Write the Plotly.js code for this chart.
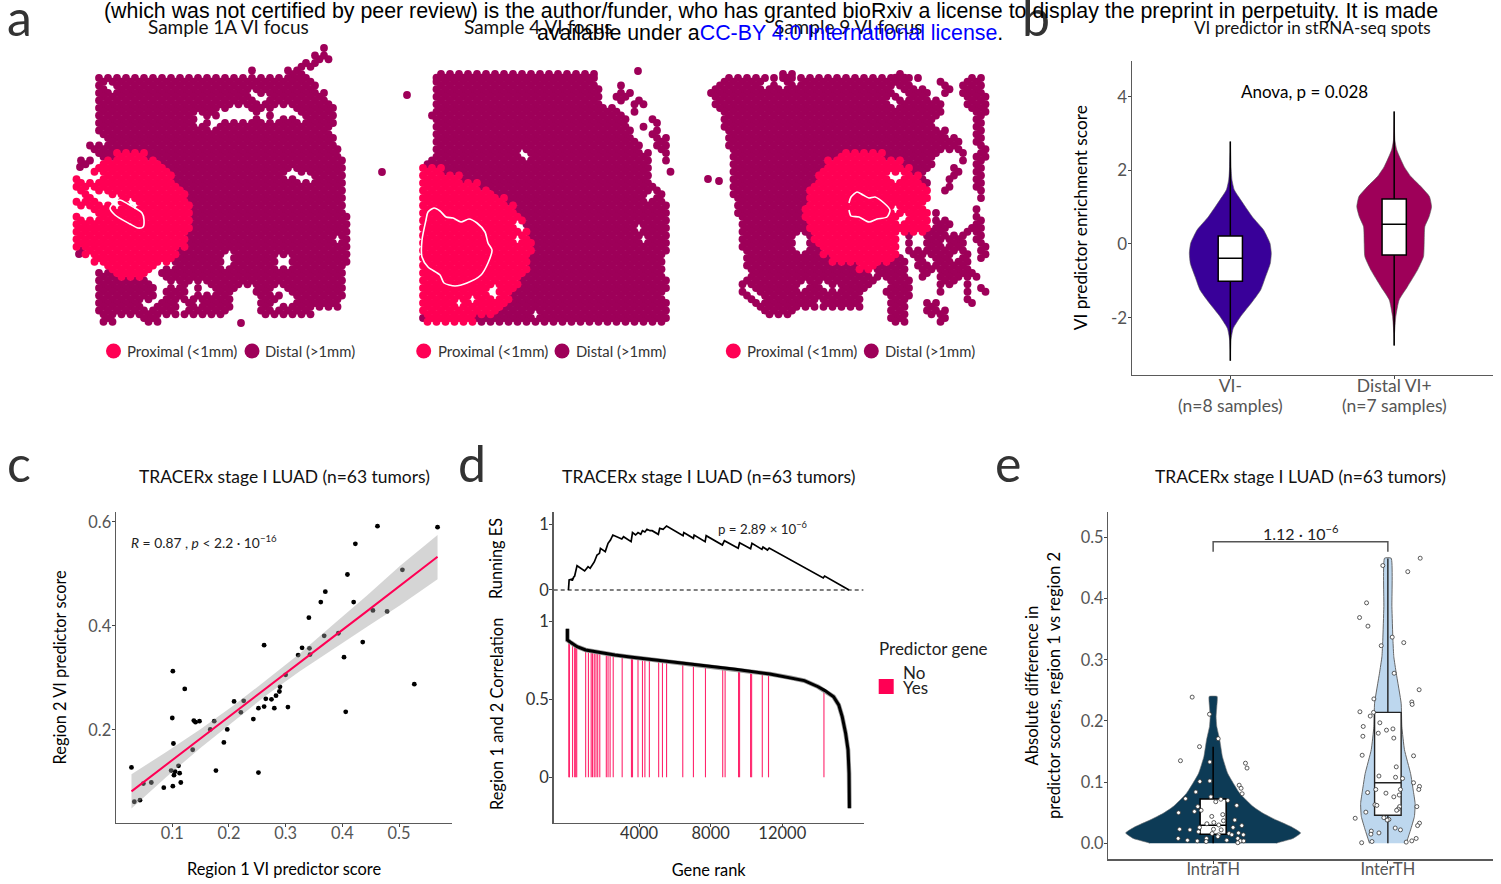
<!DOCTYPE html>
<html><head><meta charset="utf-8">
<script src="https://cdn.plot.ly/plotly-3.0.1.min.js"></script>
<style>html,body{margin:0;padding:0;background:#fff}#g{width:1501px;height:884px}</style></head>
<body><div id="g"></div>
<script>
const W=1501,H=884;
const PROX='#FF0054',DIST='#9E0059',VIOLET='#390099',NAVY='#0D3B56',SKY='#BDD7EE';
const FONT='Lato, sans-serif';

/* ---- panel a: spot extents per row: [y, left,right, left,right, ...] ---- */
const s1_tissue=[[48,322,330],[55.5,312,332],[63,298,322],[70.5,250,258,283,305],[78,96,315],[85.5,96,322],[93,96,328],[100.5,96,333],[108,96,340],[115.5,96,340],[123,96,340],[130.5,92,340],[138,96,340],[145.5,86,341],[153,93,344],[160.5,78,345],[168,77,345],[175.5,73,345],[183,73,348],[190.5,73,349],[198,73,348],[205.5,73,348],[213,73,353],[220.5,73,353],[228,73,353],[235.5,73,352],[243,73,352],[250.5,74,353],[258,90,353],[265.5,100,347],[273,95,348],[280.5,95,348],[288,95,237,252,348],[295.5,95,235,257,348],[303,95,233,257,343],[310.5,95,230,257,315],[318,97,118,140,162]];
const s1_prox=[[153,113,147],[160.5,90,160],[168,78,170],[175.5,73,177],[183,73,182],[190.5,73,187],[198,73,190],[205.5,73,192],[213,73,195],[220.5,73,195],[228,73,193],[235.5,73,189],[243,73,187],[250.5,82,182],[258,90,177],[265.5,100,167],[273,112,155]];
const s1_holes=[[112,87,2],[103,139,2],[333,128,2],[336,239,2],[200,120,3.5],[213,121,3.5],[226,115,4.5],[238,112,5],[248,117,3.5],[263,115,3.5],[276,113,4],[287,112,4],[298,118,2.5],[255,95,2.5],[265,99,2.5],[290,174,3],[300,178,3],[308,177,2],[226,265,3],[228,255,2],[284,262,4],[158,267,2],[153,277,2.5],[163,283,3.5],[175,285,2.5],[160,295,2.5],[155,303,2],[148,305,2],[169,266,1.5],[190,287,2.5],[192,293,1.5],[203,288,2.5],[209,289,1.5],[182,308,3],[196,303,1.5],[275,290,2],[287,293,2],[290,300,2],[280,302,2],[273,307,2],[97,163,2],[88,172,2],[80,172,2],[88,178,1.5],[98,178,1.5],[80,195,2],[90,192,2],[98,197,3],[105,200,3.5],[115,202,2],[132,203,1.5],[80,210,1.5],[87,212,2.5],[93,216,1.5],[103,267,2.5]];
const s1_iso_x=[241,382,79,80], s1_iso_y=[323,172,254,167];
const s1_line_x=[110,115,120,128,142,144,143,138,130,115,110], s1_line_y=[208,202,200,204,213,220,227,228,224,215,208];

const s4_tissue=[[74,432,598],[78,431,600],[85.5,431,602,615,623],[93,431,602,613,637],[100.5,431,604,615,647],[108,430,623,629,641],[115.5,427,629,633,637,647,657],[123,430,631,641,649,651,663],[130.5,431,637,647,663],[138,431,641,653,671],[145.5,431,643,653,673],[153,431,653,661,673],[160.5,424,653,663,671],[168,420,653,667,673],[175.5,420,655],[183,420,657],[190.5,420,665],[198,420,665],[205.5,420,669],[213,420,671],[220.5,420,673],[228,420,673],[235.5,420,673],[243,420,673],[250.5,420,673],[258,417,665],[265.5,417,667],[273,420,667],[280.5,420,669],[288,417,673],[295.5,417,668],[303,417,669],[310.5,417,669],[318,417,669]];
const s4_prox=[[168,420,447],[175.5,420,463],[183,420,483],[190.5,420,497],[198,420,509],[205.5,420,517],[213,420,523],[220.5,420,527],[228,420,531],[235.5,420,533],[243,420,534],[250.5,417,534],[258,417,531],[265.5,420,529],[273,420,526],[280.5,420,523],[288,417,519],[295.5,417,513],[303,417,509],[310.5,417,499],[318,424,477]];
const s4_holes=[[523,156,2],[639,230,1.5],[643,237,1.5],[520,227,1.5],[517,239,2.5],[649,197,3],[459,302,1.5],[470,299,1.5],[494,291,2.5],[536,313,2],[627,102,2],[637,117,3],[643,132,2.5],[649,143,2]];
const s4_iso_x=[638,407], s4_iso_y=[71,95];
const s4_line_x=[426,428,434,440,446,453,461,469,477,485,488,492,488,481,467,455,444,440,428,422,422,426], s4_line_y=[220,212,208,211,217,218,222,219,223,232,243,250,263,275,283,286,283,275,267,257,240,220];

const s9_tissue=[[74,780,795,890,910],[78,720,922,938,946,961,985],[85.5,710,926,938,954,957,985],[93,708,930,938,952,959,989],[100.5,712,947,961,989],[108,714,946,965,989],[115.5,718,940,971,985],[123,720,938,973,985],[130.5,722,952,973,985],[138,724,965,973,987],[145.5,726,965,975,989],[153,728,943,961,969,973,989],[160.5,728,938,956,969,973,987],[168,728,932,947,962,973,985],[175.5,728,926,946,958,973,985],[183,730,930,944,952,973,985],[190.5,730,930,940,948,975,985],[198,732,932,977,983],[205.5,732,928,973,979],[213,733,930,932,936,973,979],[220.5,736,930,932,954,971,985],[228,736,948,963,985],[235.5,738,900,908,914,921,966,972,986],[243,738,900,908,914,920,970,976,991],[250.5,740,900,906,974,978,991],[258,742,908,914,972,978,986],[265.5,744,908,912,972],[273,746,910,918,982],[280.5,738,878,884,912,934,957,963,969],[288,738,744,752,870,880,912,934,944,966,972,977,989],[295.5,742,756,758,864,884,912,961,971],[303,750,864,884,910,920,942,972,976],[310.5,760,799,884,910,922,948],[318,884,908,936,950]];
const s9_prox=[[153,839,886],[160.5,825,906],[168,819,914],[175.5,813,922],[183,809,928],[190.5,807,932],[198,804,930],[205.5,803,928],[213,803,932],[220.5,805,930],[228,807,930],[235.5,809,900],[243,813,900,908,914],[250.5,819,900],[258,829,894],[265.5,855,878]];
const s9_holes=[[768,85,1.5],[780,83,2],[795,82,2],[896,88,2],[904,95,2],[894,103,1.5],[916,85,2],[801,243,6],[898,177,3],[890,175,1.5],[896,209,1.5],[904,218,3],[803,287,1.5],[819,300,1.5],[827,286,1.5],[837,290,2],[874,273,1.5],[945,243,2],[930,260,2],[955,255,2],[935,275,2],[950,290,2]];
const s9_iso_x=[708,719], s9_iso_y=[179,181];
const s9_line_x=[849,851,857,863,869,875,884,890,887,877,869,859,851,849], s9_line_y=[203,197,192,195,198,197,203,210,217,219,222,217,216,210];

const a_bullet_x=[113.5,252,423.7,562,733.3,871.3];
const a_bullet_y=[351,351,351,351,351,351];
const a_bullet_c=[PROX,DIST,PROX,DIST,PROX,DIST];

/* ---- panel b ---- */
const b_vi_y=[2.78,2.10,1.74,1.47,1.20,0.74,0.38,0.02,-0.25,-0.53,-0.89,-1.25,-1.57,-1.97,-2.29,-2.61,-3.17];
const b_vi_w=[0,0.004,0.010,0.024,0.063,0.134,0.203,0.242,0.250,0.244,0.215,0.185,0.134,0.063,0.018,0.004,0];
const b_di_y=[3.60,2.83,2.55,2.10,1.83,1.56,1.29,1.01,0.74,0.47,0.02,-0.34,-0.71,-1.16,-1.52,-1.97,-2.43,-2.76];
const b_di_w=[0,0.004,0.016,0.061,0.102,0.163,0.215,0.228,0.213,0.187,0.183,0.179,0.142,0.081,0.030,0.010,0.002,0];
const b_labels=['VI-','Distal VI+'];

/* ---- panel c ---- */
const c_x=[.028,.033,.043,.049,.063,.085,.098,.101,.100,.101,.102,.105,.103,.111,.113,.115,.122,.136,.138,.141,.148,.167,.174,.177,.191,.197,.209,.221,.226,.243,.252,.252,.262,.262,.265,.275,.280,.283,.289,.290,.300,.304,.322,.329,.342,.343,.341,.362,.368,.370,.393,.403,.406,.409,.420,.423,.436,.454,.462,.479,.506,.527,.568];
const c_y=[.128,.062,.065,.097,.099,.089,.122,.092,.223,.313,.174,.120,.113,.131,.117,.099,.279,.162,.218,.215,.217,.201,.217,.122,.176,.201,.255,.234,.256,.221,.242,.118,.245,.363,.260,.259,.242,.266,.274,.283,.306,.244,.344,.358,.357,.345,.416,.446,.381,.466,.386,.340,.235,.499,.446,.558,.369,.430,.592,.428,.508,.288,.590];
const c_fit_x=[.028,.090,.149,.208,.266,.325,.384,.443,.502,.568];
const c_fit_y=[.082,.134,.183,.232,.281,.330,.379,.428,.478,.533];
const c_hi=[.115,.158,.201,.247,.296,.347,.403,.458,.516,.575];
const c_lo=[.049,.110,.165,.217,.267,.313,.356,.398,.440,.490];

/* ---- panel d ---- */
const d_es_rank=[58,96,231,269,346,404,538,962,1154,1269,1500,1654,1788,1846,2115,2269,2404,2538,3038,3135,3558,3635,3808,3942,4096,4192,4327,4442,4615,4731,5077,5154,5346,5538,6461,6500,7038,7077,7692,7750,8654,8769,9538,9615,10230,10307,10865,10923,11173,11269,14288,14365,15730];
const d_es=[0,.153,.163,.143,.194,.214,.372,.291,.357,.332,.429,.536,.561,.638,.587,.714,.765,.842,.781,.816,.74,.878,.842,.878,.852,.908,.888,.929,.908,.908,.852,.944,.929,.98,.832,.878,.791,.842,.74,.832,.689,.755,.638,.724,.633,.714,.622,.658,.612,.643,.184,.214,0];
const d_hit_rank=[77,115,288,404,462,519,1019,1173,1327,1404,1500,1596,1692,1808,2173,2269,2385,2558,3058,3577,3635,3942,4192,4327,4577,5096,5308,5538,6442,7038,7711,8673,8808,9558,9615,10230,10288,10884,11231,14327];
const d_hit_top=[.875,.865,.85,.845,.842,.84,.818,.815,.81,.808,.806,.805,.803,.80,.795,.793,.79,.788,.78,.772,.771,.765,.76,.757,.755,.75,.748,.745,.734,.727,.719,.704,.70,.691,.69,.68,.68,.67,.665,.56];
const d_cor_rank=[0,0,154,538,1019,1692,2654,3615,5538,7461,9384,11307,12461,13230,14000,14384,14865,15153,15346,15538,15673,15730,15750];
const d_cor=[.955,.882,.869,.839,.818,.803,.786,.771,.745,.722,.694,.664,.64,.621,.582,.557,.518,.465,.39,.283,.176,.026,-.199];
const d_rule_x=[-766,16542], d_rule_y=[0,0];

/* ---- panel e ---- */
const e_in_x=[.880,.979,1.029,.922,.813,.981,1.185,1.194,.924,.981,1.149,1.160,.901,1.166,.842,.987,1.044,1.084,1.015,.912,.931,1.135,.893,.802,1.055,.992,1.124,1.059,1.004,.964,1.032,1.164,1.114,.922,1.002,1.046,.808,.867,.916,1.145,.994,1.032,1.091,1.107,1.173,1.027,.962,.800,.853,.909,.960,1.078,1.141,1.156,1.175,1.141];
const e_in_y=[.239,.211,.171,.158,.135,.133,.131,.123,.101,.102,.095,.090,.084,.081,.073,.076,.072,.070,.068,.060,.054,.062,.052,.050,.047,.044,.038,.037,.034,.032,.030,.029,.026,.026,.023,.022,.023,.022,.019,.017,.016,.014,.016,.014,.014,.011,.008,.008,.005,.004,.003,.005,.008,.004,.004,.001];
const e_out_x=[1.971,2.114,2.185,1.878,1.838,1.886,2.025,2.091,1.962,2.036,2.179,1.920,2.137,2.139,1.840,1.918,1.899,1.954,1.859,2.029,1.992,1.945,1.857,2.034,1.853,2.147,2.048,1.949,2.044,2.084,2.147,2.181,2.177,1.931,2.072,1.884,1.989,2.065,2.034,1.926,1.937,2.166,2.067,2.059,2.050,1.874,1.813,1.977,2.006,1.996,2.181,2.170,2.042,2.072,1.905,1.949,1.903,2.162,2.137,1.909,2.105,1.850];
const e_out_y=[.454,.444,.466,.393,.369,.355,.337,.328,.323,.278,.251,.236,.231,.227,.215,.214,.208,.197,.191,.187,.185,.180,.175,.172,.144,.143,.125,.110,.108,.106,.099,.093,.088,.088,.088,.083,.082,.079,.076,.063,.062,.060,.060,.056,.054,.051,.041,.042,.039,.038,.033,.029,.025,.022,.020,.017,.015,.008,.004,.003,.002,.001];
const e_vin_y=[0,.001,.008,.017,.027,.038,.049,.060,.082,.114,.142,.169,.191,.207,.223,.240];
const e_vin_w=[.362,.371,.457,.501,.448,.362,.286,.229,.152,.084,.053,.038,.021,.017,.021,.023];
const e_vout_y=[0,.022,.044,.065,.087,.114,.153,.191,.229,.278,.305,.332,.387,.466];
const e_vout_w=[.105,.130,.152,.156,.145,.130,.095,.080,.076,.048,.034,.029,.023,.019];
const e_br_x=[1,1,2,2], e_br_y=[.4766,.493,.493,.4766];
const e_labels=['IntraTH','InterTH'];

/* ---- helpers ---- */
function hit(spans,y,x,inset){
  for(const r of spans){ if(r[0]!==y) continue;
    for(let i=1;i<r.length;i+=2){ if(x>=r[i]+inset && x<=r[i+1]-inset) return true; } }
  return false;
}
function spots(tissue,prox,holes){
  const D={x:[],y:[]},P={x:[],y:[]};
  for(const r of tissue){
    const y0=r[0];
    for(let j=0;j<2;j++){
      const yy=y0+3.75*j, off=j*4.5;
      for(let i=1;i<r.length;i+=2){
        let L=r[i]+3,R=r[i+1]-3;
        if(R-L<4.6){const m=(r[i]+r[i+1])/2;L=m-2.3;R=m+2.3;}
        for(let k=Math.ceil((L-off)/9);9*k+off<=R;k++){
          const xx=9*k+off;
          if(holes.some(h=>Math.hypot(xx-h[0],yy-h[1])<h[2]+2.5)) continue;
          const into=hit(prox,y0,xx,2.5)?P:D;
          into.x.push(xx); into.y.push(yy);
        }
      }
    }
  }
  return {D,P};
}
const hd=(L,R)=>[L/W,R/W], vd=(T,B)=>[1-B/H,1-T/H];
const marker=(c,s)=>({color:c,size:s,line:{width:0}});
function violin(c,ys,ws){
  return {x:ys.map((y,i)=>c-ws[i]).concat(ys.map((y,i)=>c+ws[i]).reverse()),
          y:ys.concat(ys.slice().reverse())};
}
const ln=(size,col)=>({showline:true,linecolor:'#5A5A5A',linewidth:1.5,zeroline:false,showgrid:false,ticks:'outside',ticklen:3,tickwidth:1,tickcolor:'#444',
  tickfont:{family:FONT,size:size,color:col||'#555'}});
const ttl=(t,st,s)=>({text:t,standoff:st,font:{family:FONT,size:s,color:'#000'}});

const traces=[];
function addSample(t,p,h,ix,iy,lx,ly){
  const s=spots(t,p,h);
  traces.push({type:'scatter',mode:'markers',x:s.D.x.concat(ix),y:s.D.y.concat(iy),marker:marker(DIST,7.8),xaxis:'x',yaxis:'y'});
  traces.push({type:'scatter',mode:'markers',x:s.P.x,y:s.P.y,marker:marker(PROX,7.8),xaxis:'x',yaxis:'y'});
  traces.push({type:'scatter',mode:'lines',x:lx,y:ly,line:{color:'#fff',width:1.6,shape:'spline',smoothing:.7},xaxis:'x',yaxis:'y'});
}
addSample(s1_tissue,s1_prox,s1_holes,s1_iso_x,s1_iso_y,s1_line_x,s1_line_y);
addSample(s4_tissue,s4_prox,s4_holes,s4_iso_x,s4_iso_y,s4_line_x,s4_line_y);
addSample(s9_tissue,s9_prox,s9_holes,s9_iso_x,s9_iso_y,s9_line_x,s9_line_y);
traces.push({type:'scatter',mode:'markers',x:a_bullet_x,y:a_bullet_y,marker:{color:a_bullet_c,size:15,line:{width:0}},xaxis:'x',yaxis:'y'});

/* b */
const bv1=violin(1,b_vi_y,b_vi_w), bv2=violin(2,b_di_y,b_di_w);
traces.push({type:'scatter',mode:'lines',x:bv1.x,y:bv1.y,fill:'toself',fillcolor:VIOLET,line:{color:'#555',width:.6,shape:'spline',smoothing:.5},xaxis:'x2',yaxis:'y2'});
traces.push({type:'scatter',mode:'lines',x:bv2.x,y:bv2.y,fill:'toself',fillcolor:DIST,line:{color:'#555',width:.6,shape:'spline',smoothing:.5},xaxis:'x2',yaxis:'y2'});
const boxStyle={type:'box',boxpoints:false,whiskerwidth:0,fillcolor:'#fff',line:{color:'#000',width:1.5}};
traces.push(Object.assign({},boxStyle,{x:[1],q1:[-1.014],median:[-.39],q3:[.217],lowerfence:[-3.17],upperfence:[2.78],width:.148,xaxis:'x7',yaxis:'y7'}));
traces.push(Object.assign({},boxStyle,{x:[2],q1:[-.30],median:[.534],q3:[1.22],lowerfence:[-2.76],upperfence:[3.60],width:.148,xaxis:'x7',yaxis:'y7'}));

/* c */
traces.push({type:'scatter',mode:'markers',x:c_x,y:c_y,marker:marker('#000',4.8),xaxis:'x3',yaxis:'y3'});
traces.push({type:'scatter',mode:'lines',x:c_fit_x.concat(c_fit_x.slice().reverse()),y:c_hi.concat(c_lo.slice().reverse()),fill:'toself',fillcolor:'rgba(158,158,158,.43)',line:{width:0},xaxis:'x3',yaxis:'y3'});
traces.push({type:'scatter',mode:'lines',x:c_fit_x,y:c_fit_y,line:{color:PROX,width:2},xaxis:'x3',yaxis:'y3'});

/* d */
traces.push({type:'scatter',mode:'lines',x:d_rule_x,y:d_rule_y,line:{color:'#555',width:1.3,dash:'4px,3px'},xaxis:'x4',yaxis:'y4'});
traces.push({type:'scatter',mode:'lines',x:d_es_rank,y:d_es,line:{color:'#000',width:1.7},xaxis:'x4',yaxis:'y4'});
const hx=[],hy=[];
d_hit_rank.forEach((r,i)=>{hx.push(r,r,null);hy.push(0,d_hit_top[i],null);});
traces.push({type:'scatter',mode:'lines',x:hx,y:hy,line:{color:PROX,width:1.1},opacity:.85,xaxis:'x5',yaxis:'y5'});
traces.push({type:'scatter',mode:'lines',x:d_cor_rank,y:d_cor,line:{color:'#9A9A9A',width:4.6},xaxis:'x5',yaxis:'y5'});
traces.push({type:'scatter',mode:'lines',x:d_cor_rank,y:d_cor,line:{color:'#000',width:3},xaxis:'x5',yaxis:'y5'});

/* e */
const ev1=violin(1,e_vin_y,e_vin_w), ev2=violin(2,e_vout_y,e_vout_w);
traces.push({type:'scatter',mode:'lines',x:ev1.x,y:ev1.y,fill:'toself',fillcolor:NAVY,line:{color:'#777',width:.6,shape:'spline',smoothing:.4},xaxis:'x6',yaxis:'y6'});
traces.push({type:'scatter',mode:'lines',x:ev2.x,y:ev2.y,fill:'toself',fillcolor:SKY,line:{color:'#666',width:1,shape:'spline',smoothing:.4},xaxis:'x6',yaxis:'y6'});
traces.push(Object.assign({},boxStyle,{x:[1],q1:[.0147],median:[.0294],q3:[.0724],lowerfence:[0],upperfence:[.158],width:.149,xaxis:'x8',yaxis:'y8'}));
traces.push(Object.assign({},boxStyle,{x:[2],q1:[.0458],median:[.0991],q3:[.214],lowerfence:[0],upperfence:[.4657],width:.152,line:{color:'#222',width:1.4},xaxis:'x8',yaxis:'y8'}));
const dotM={color:'#fff',size:4,line:{color:'#333',width:.8}};
traces.push({type:'scatter',mode:'markers',x:e_in_x,y:e_in_y,marker:dotM,xaxis:'x8',yaxis:'y8'});
traces.push({type:'scatter',mode:'markers',x:e_out_x,y:e_out_y,marker:dotM,xaxis:'x8',yaxis:'y8'});
traces.push({type:'scatter',mode:'lines',x:e_br_x,y:e_br_y,line:{color:'#555',width:1.5},xaxis:'x8',yaxis:'y8'});

/* text */
function T(x,y,text,o){
  return Object.assign({xref:'paper',yref:'paper',x:x/W,y:1-y/H,text:text,showarrow:false,xanchor:'center',yanchor:'middle',
    font:{family:FONT,size:17,color:'#111'}},o||{});
}
const F=(s,c,fam)=>({family:fam||FONT,size:s,color:c||'#111'});
const BANNER='"Liberation Sans", Arial, sans-serif';
const notes=[
  T(19,17,'a',{font:F(50,'#333')}), T(1036,17,'b',{font:F(50,'#333')}),
  T(19,463,'c',{font:F(50,'#333')}), T(472,463,'d',{font:F(50,'#333')}), T(1008,463,'e',{font:F(50,'#333')}),
  T(228.5,26,'Sample 1A VI focus',{font:F(19)}), T(538,26,'Sample 4 VI focus',{font:F(19)}), T(848,26,'Sample 9 VI focus',{font:F(19)}),
  T(1312.5,27,'VI predictor in stRNA-seq spots',{font:F(17.1)}),
  T(770.5,11,'(which was not certified by peer review) is the author/funder, who has granted bioRxiv a license to display the preprint in perpetuity. It is made',{font:F(21.37,'#000',BANNER)}),
  T(770,33,'available under a<span style="color:#0000FF">CC-BY 4.0 International license</span>.',{font:F(21.37,'#000',BANNER)}),
  T(125,351,'Proximal (&lt;1mm)',{xanchor:'left',font:F(15,'#333')}), T(263,351,'Distal (&gt;1mm)',{xanchor:'left',font:F(14.8,'#333')}),
  T(435.6,351,'Proximal (&lt;1mm)',{xanchor:'left',font:F(15,'#333')}), T(573.5,351,'Distal (&gt;1mm)',{xanchor:'left',font:F(14.8,'#333')}),
  T(745.2,351,'Proximal (&lt;1mm)',{xanchor:'left',font:F(15,'#333')}), T(882.7,351,'Distal (&gt;1mm)',{xanchor:'left',font:F(14.8,'#333')}),
  T(1304,92,'Anova, p = 0.028',{font:F(17,'#000')}),
  T(1230.5,406,'(n=8 samples)',{font:F(17.5,'#555')}),
  T(1394.5,406,'(n=7 samples)',{font:F(17.5,'#555')}),
  T(284.5,476,'TRACERx stage I LUAD (n=63 tumors)',{font:F(17.45)}),
  T(708,476,'TRACERx stage I LUAD (n=63 tumors)',{font:F(17.6)}),
  T(1300.5,476,'TRACERx stage I LUAD (n=63 tumors)',{font:F(17.45)}),
  T(129,541,'<i>R</i> = 0.87 , <i>p</i> &lt; 2.2 · 10<sup>−16</sup>',{xanchor:'left',font:F(13.8,'#222')}),
  T(716,528,'p = 2.89 × 10<sup>−6</sup>',{xanchor:'left',font:F(13.3,'#222')}),
  T(876.5,648,'Predictor gene',{xanchor:'left',font:F(17,'#222')}),
  T(901,672,'No',{xanchor:'left',font:F(17,'#222')}),
  T(901,687,'Yes',{xanchor:'left',font:F(17,'#222')}),
  T(1300.5,532,'1.12 · 10<sup>−6</sup>',{font:F(16,'#222')})
];
const shapes=[{type:'rect',xref:'paper',yref:'paper',x0:878.7/W,x1:893.7/W,y0:1-694/H,y1:1-679/H,fillcolor:PROX,line:{width:0}}];
const bRangeX=[.4,2.6], bRangeY=[-3.546,4.97], eRangeX=[.4,2.6], eRangeY=[-.0256,.5415];

const layout={width:W,height:H,margin:{l:0,r:0,t:0,b:0},paper_bgcolor:'#fff',plot_bgcolor:'rgba(0,0,0,0)',showlegend:false,annotations:notes,shapes:shapes,
  xaxis:{domain:[0,1],range:[0,W],visible:false,anchor:'y'},
  yaxis:{domain:[0,1],range:[H,0],visible:false,anchor:'x'},
  xaxis2:Object.assign(ln(17.5),{domain:hd(1132,1492.5),range:bRangeX,anchor:'y2',tickmode:'array',tickvals:[1,2],ticktext:b_labels,ticklabelstandoff:-8}),
  yaxis2:Object.assign(ln(17),{domain:vd(61,374.5),range:bRangeY,anchor:'x2',tickmode:'array',tickvals:[-2,0,2,4],ticktext:['-2','0','2','4'],ticklabelstandoff:-3,title:ttl('VI predictor enrichment score',19,17.3)}),
  xaxis7:{domain:hd(1132,1492.5),range:bRangeX,anchor:'y7',overlaying:'x2',visible:false},
  yaxis7:{domain:vd(61,374.5),range:bRangeY,anchor:'x7',overlaying:'y2',visible:false},
  xaxis3:Object.assign(ln(16.4),{domain:hd(116,452),range:[.0007,.5935],anchor:'y3',tickmode:'array',tickvals:[.1,.2,.3,.4,.5],ticktext:['0.1','0.2','0.3','0.4','0.5'],ticklabelstandoff:-8,title:ttl('Region 1 VI predictor score',22,16.4)}),
  yaxis3:Object.assign(ln(16.4),{domain:vd(512,822.7),range:[.0217,.6192],anchor:'x3',tickmode:'array',tickvals:[.2,.4,.6],ticktext:['0.2','0.4','0.6'],ticklabelstandoff:-3,title:ttl('Region 2 VI predictor score',17,16.4)}),
  xaxis4:{domain:hd(553.7,863.6),range:[-766,16542],anchor:'y4',visible:false},
  yaxis4:Object.assign(ln(16.5,'#333'),{domain:vd(512,605),range:[-.23,1.194],anchor:'x4',tickmode:'array',tickvals:[0,1],ticktext:['0','1'],ticklabelstandoff:-3,title:ttl('Running ES',32,16.3)}),
  xaxis5:Object.assign(ln(16.5,'#333'),{domain:hd(553.7,863.6),range:[-766,16542],anchor:'y5',tickmode:'array',tickvals:[4000,8000,12000],ticktext:['4000','8000','12000'],ticklabelstandoff:-8,title:ttl('Gene rank',22,16.4)}),
  yaxis5:Object.assign(ln(16.5,'#333'),{domain:vd(605,822.7),range:[-.2915,1.107],anchor:'x5',tickmode:'array',tickvals:[0,.5,1],ticktext:['0','0.5','1'],ticklabelstandoff:-3,title:ttl('Region 1 and 2 Correlation',18,16.4)}),
  xaxis6:Object.assign(ln(16.4),{domain:hd(1108.3,1492.7),range:eRangeX,anchor:'y6',tickmode:'array',tickvals:[1,2],ticktext:e_labels,ticklabelstandoff:-8}),
  yaxis6:Object.assign(ln(16.4),{domain:vd(512,859),range:eRangeY,anchor:'x6',tickmode:'array',tickvals:[0,.1,.2,.3,.4,.5],ticktext:['0.0','0.1','0.2','0.3','0.4','0.5'],ticklabelstandoff:-3,title:ttl('Absolute difference in<br>predictor scores, region 1 vs region 2',15.5,16.6)}),
  xaxis8:{domain:hd(1108.3,1492.7),range:eRangeX,anchor:'y8',overlaying:'x6',visible:false},
  yaxis8:{domain:vd(512,859),range:eRangeY,anchor:'x8',overlaying:'y6',visible:false}
};
Plotly.newPlot('g',traces,layout,{staticPlot:true,displayModeBar:false});
</script></body></html>
